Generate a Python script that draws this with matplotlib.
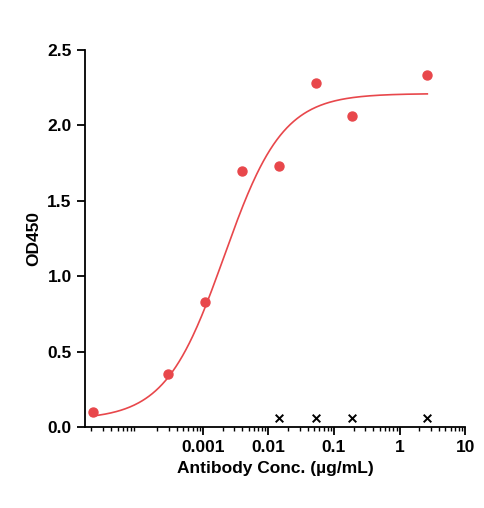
import numpy as np
import matplotlib
matplotlib.use("Agg")
import matplotlib.pyplot as plt

conc = [2.1e-5, 2.9e-4, 1.07e-3, 3.9e-3, 1.45e-2, 5.3e-2, 0.188, 2.65]
od = [0.10, 0.35, 0.83, 1.70, 1.73, 2.28, 2.06, 2.33]
blank_conc = [1.45e-2, 5.3e-2, 0.188, 2.65]
blank_od = [0.06, 0.06, 0.06, 0.06]
fit_bottom, fit_top, fit_ec50, fit_hill = 0.05, 2.21, 0.0021, 0.97

plt.rcParams['font.family'] = ['Liberation Sans', 'DejaVu Sans']
fig = plt.figure(figsize=(4.85, 5.08), dpi=100)
ax = fig.add_axes([0.175, 0.159, 0.784, 0.743])
xs = np.logspace(np.log10(conc[0]) - 0.02, np.log10(conc[-1]), 300)
ys = fit_bottom + (fit_top - fit_bottom) / (1 + (fit_ec50 / xs) ** fit_hill)
ax.plot(xs, ys, color='#e8474b', lw=1.2)
ax.scatter(conc, od, color='#e8474b', s=42, zorder=3)
ax.scatter(blank_conc, blank_od, color='black', marker='x', s=30, lw=1.4, zorder=3)
ax.set_xscale('log')
ax.set_xlim(10 ** -4.8, 10)
ax.set_ylim(0, 2.5)
ax.set_xticks([0.001, 0.01, 0.1, 1, 10])
ax.set_xticklabels(['0.001', '0.01', '0.1', '1', '10'])
ax.set_yticks([0, 0.5, 1.0, 1.5, 2.0, 2.5])
ax.set_yticklabels(['0.0', '0.5', '1.0', '1.5', '2.0', '2.5'])
ax.minorticks_on()
ax.yaxis.set_minor_locator(matplotlib.ticker.NullLocator())
for s in ['top', 'right']:
    ax.spines[s].set_visible(False)
for s in ['left', 'bottom']:
    ax.spines[s].set_linewidth(1.3)
ax.tick_params(axis='both', which='major', width=1.3, length=6, labelsize=12.5)
ax.tick_params(axis='x', which='minor', width=1.0, length=3)
for lab in ax.get_xticklabels() + ax.get_yticklabels():
    lab.set_fontweight('bold')
ax.set_xlabel('Antibody Conc. (µg/mL)', fontsize=12.5, fontweight='bold')
ax.set_ylabel('OD450', fontsize=12.5, fontweight='bold')
fig.savefig('out.png', dpi=100)
